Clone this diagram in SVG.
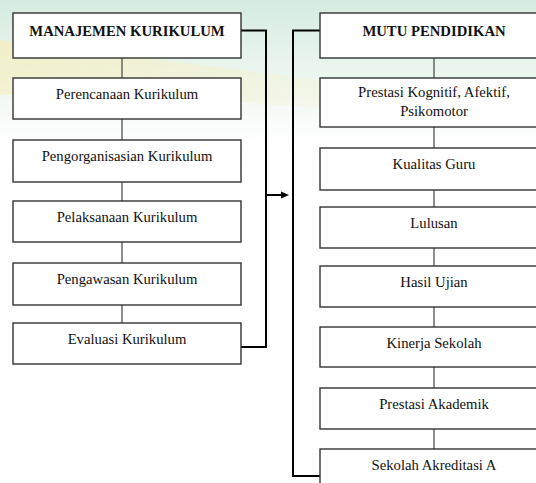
<svg xmlns="http://www.w3.org/2000/svg" width="536" height="483" viewBox="0 0 536 483">
<style>
.box{fill:#fff;stroke:#333;stroke-width:1.4}
.t{font-family:'Liberation Serif','Times New Roman','DejaVu Serif',serif;font-size:14.7px;fill:#111;text-anchor:middle}
.b{font-weight:bold}
.c{stroke:#444;stroke-width:1.2;fill:none}
.k{stroke:#000;stroke-width:2;fill:none}
</style>
<defs>
<linearGradient id="bg" x1="0" y1="0" x2="0" y2="1">
<stop offset="0" stop-color="#cfe9dc" stop-opacity="0.9"/>
<stop offset="0.55" stop-color="#e6f3ea" stop-opacity="0.6"/>
<stop offset="1" stop-color="#ffffff" stop-opacity="0"/>
</linearGradient>
<linearGradient id="yb" x1="0" y1="0" x2="1" y2="0.3">
<stop offset="0" stop-color="#f4efc0" stop-opacity="0.8"/>
<stop offset="0.5" stop-color="#f6f0c8" stop-opacity="0.45"/>
<stop offset="1" stop-color="#f6f0c8" stop-opacity="0"/>
</linearGradient>
</defs>
<rect width="536" height="483" fill="#fff"/>
<rect width="536" height="170" fill="url(#bg)"/>
<path d="M0,40 Q250,70 536,110 L536,130 Q250,95 0,95 Z" fill="url(#yb)"/>

<g id="connectors">
<path class="c" d="M122,58V78M122,119V140M122,182V201M122,242V263M122,305V323"/>
<path class="c" d="M434,58V78M434,127V148M434,190V207M434,248V266M434,307V327M434,367V388M434,429V449"/>
<path class="k" d="M241,30.5H266V347H241"/>
<path class="k" d="M320,30.5H293V476H320"/>
<path class="k" d="M266,195H283"/>
<polygon points="281,191.5 289,195 281,198.5" fill="#000"/>
</g>

<g id="manajemen"><rect class="box" x="13" y="13" width="228" height="45"/><text class="t b" x="127" y="36">MANAJEMEN KURIKULUM</text></g>
<g id="perencanaan"><rect class="box" x="13" y="78" width="228" height="41"/><text class="t" x="127" y="99">Perencanaan Kurikulum</text></g>
<g id="pengorganisasian"><rect class="box" x="13" y="140" width="228" height="42"/><text class="t" x="127" y="161">Pengorganisasian Kurikulum</text></g>
<g id="pelaksanaan"><rect class="box" x="13" y="201" width="228" height="41"/><text class="t" x="127" y="221.5">Pelaksanaan Kurikulum</text></g>
<g id="pengawasan"><rect class="box" x="13" y="263" width="228" height="42"/><text class="t" x="127" y="283.5">Pengawasan Kurikulum</text></g>
<g id="evaluasi"><rect class="box" x="13" y="323" width="228" height="41"/><text class="t" x="127" y="343.5">Evaluasi Kurikulum</text></g>

<g id="mutu"><rect class="box" x="320" y="13" width="228" height="45"/><text class="t b" x="434" y="36">MUTU PENDIDIKAN</text></g>
<g id="prestasi-kognitif"><rect class="box" x="320" y="78" width="228" height="49"/><text class="t" x="434" y="96.5">Prestasi Kognitif, Afektif,</text><text class="t" x="434" y="115.5">Psikomotor</text></g>
<g id="kualitas-guru"><rect class="box" x="320" y="148" width="228" height="42"/><text class="t" x="434" y="168.5">Kualitas Guru</text></g>
<g id="lulusan"><rect class="box" x="320" y="207" width="228" height="41"/><text class="t" x="434" y="227.5">Lulusan</text></g>
<g id="hasil-ujian"><rect class="box" x="320" y="266" width="228" height="41"/><text class="t" x="434" y="287">Hasil Ujian</text></g>
<g id="kinerja-sekolah"><rect class="box" x="320" y="327" width="228" height="40"/><text class="t" x="434" y="347.5">Kinerja Sekolah</text></g>
<g id="prestasi-akademik"><rect class="box" x="320" y="388" width="228" height="41"/><text class="t" x="434" y="408.5">Prestasi Akademik</text></g>
<g id="sekolah-akreditasi"><rect class="box" x="320" y="449" width="228" height="50"/><text class="t" x="434" y="470">Sekolah Akreditasi A</text></g>
</svg>
